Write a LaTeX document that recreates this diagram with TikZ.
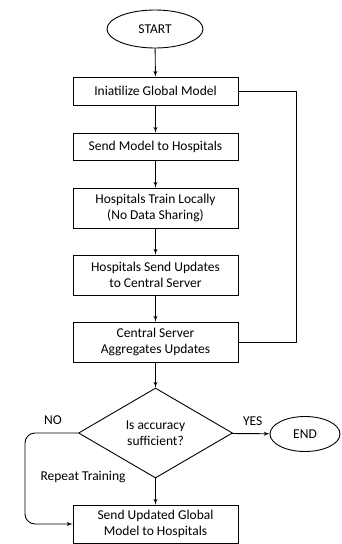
\documentclass[tikz,border=0pt]{standalone}
\usepackage{fontspec}
\setmainfont{Carlito}
\usetikzlibrary{arrows,shapes.geometric,positioning}
\tikzstyle{line} = [draw, -latex']
\tikzstyle{block} = [draw, rectangle, minimum width=165pt, align=center, inner sep=2pt]
\tikzstyle{term} = [draw, ellipse, inner sep=0pt]

\begin{document}
\begin{tikzpicture}[x=1pt,y=-1pt,line width=0.9pt,font=\fontsize{13.5}{15.5}\selectfont]
   		\useasboundingbox (0,0) rectangle (341,544); % frame of the picture
   		\node (start) [term, minimum width=96pt, minimum height=38pt] at (155,29) {START}; % start
   		\node (init) [block, minimum height=28pt] at (155.5,91) {Iniatilize Global Model}; % step 1
   		\node (send) [block, minimum height=27pt] at (155.5,146.5) {Send Model to Hospitals}; % step 2
   		\node (train) [block, minimum height=40pt] at (155.5,208) {Hospitals Train Locally\\(No Data Sharing)}; % step 3
   		\node (upd) [block, minimum height=40pt] at (155.5,275) {Hospitals Send Updates\\to Central Server}; % step 4
   		\node (agg) [block, minimum height=40pt] at (155.5,342) {Central Server\\Aggregates Updates}; % step 5
   		\node (dec) [draw, diamond, inner sep=0pt, minimum width=154pt, minimum height=90pt, align=center] at (155.5,433) {Is accuracy\\sufficient?}; % decision
   		\node (end) [term, minimum width=70pt, minimum height=35pt] at (305,434) {END}; % end
   		\node (final) [block, minimum height=38pt] at (155.5,524) {Send Updated Global\\Model to Hospitals}; % repeat step
   		\draw[line] (start) -- (init);
   		\draw[line] (init) -- (send);
   		\draw[line] (send) -- (train);
   		\draw[line] (train) -- (upd);
   		\draw[line] (upd) -- (agg);
   		\draw[line] (agg) -- (dec);
   		\draw[line] (dec) -- (final);
   		\draw[line] (dec) -- (end) node (yes) [pos=0.55, above=4pt] {YES}; % yes branch
   		\coordinate (fb) at (296,91); % corner of the loop on the right
   		\draw (init.east) -- (fb) |- (agg.east); % loop back
   		\coordinate (lp) at (25,433); % corner of the loop on the left
   		\draw[line, rounded corners=10pt] (dec.west) -- (lp) |- (final.west); % no branch
   		\node (no) at (53,420) {NO};
   		\node (rep) at (83,477) {Repeat Training};
\end{tikzpicture}
\end{document}
